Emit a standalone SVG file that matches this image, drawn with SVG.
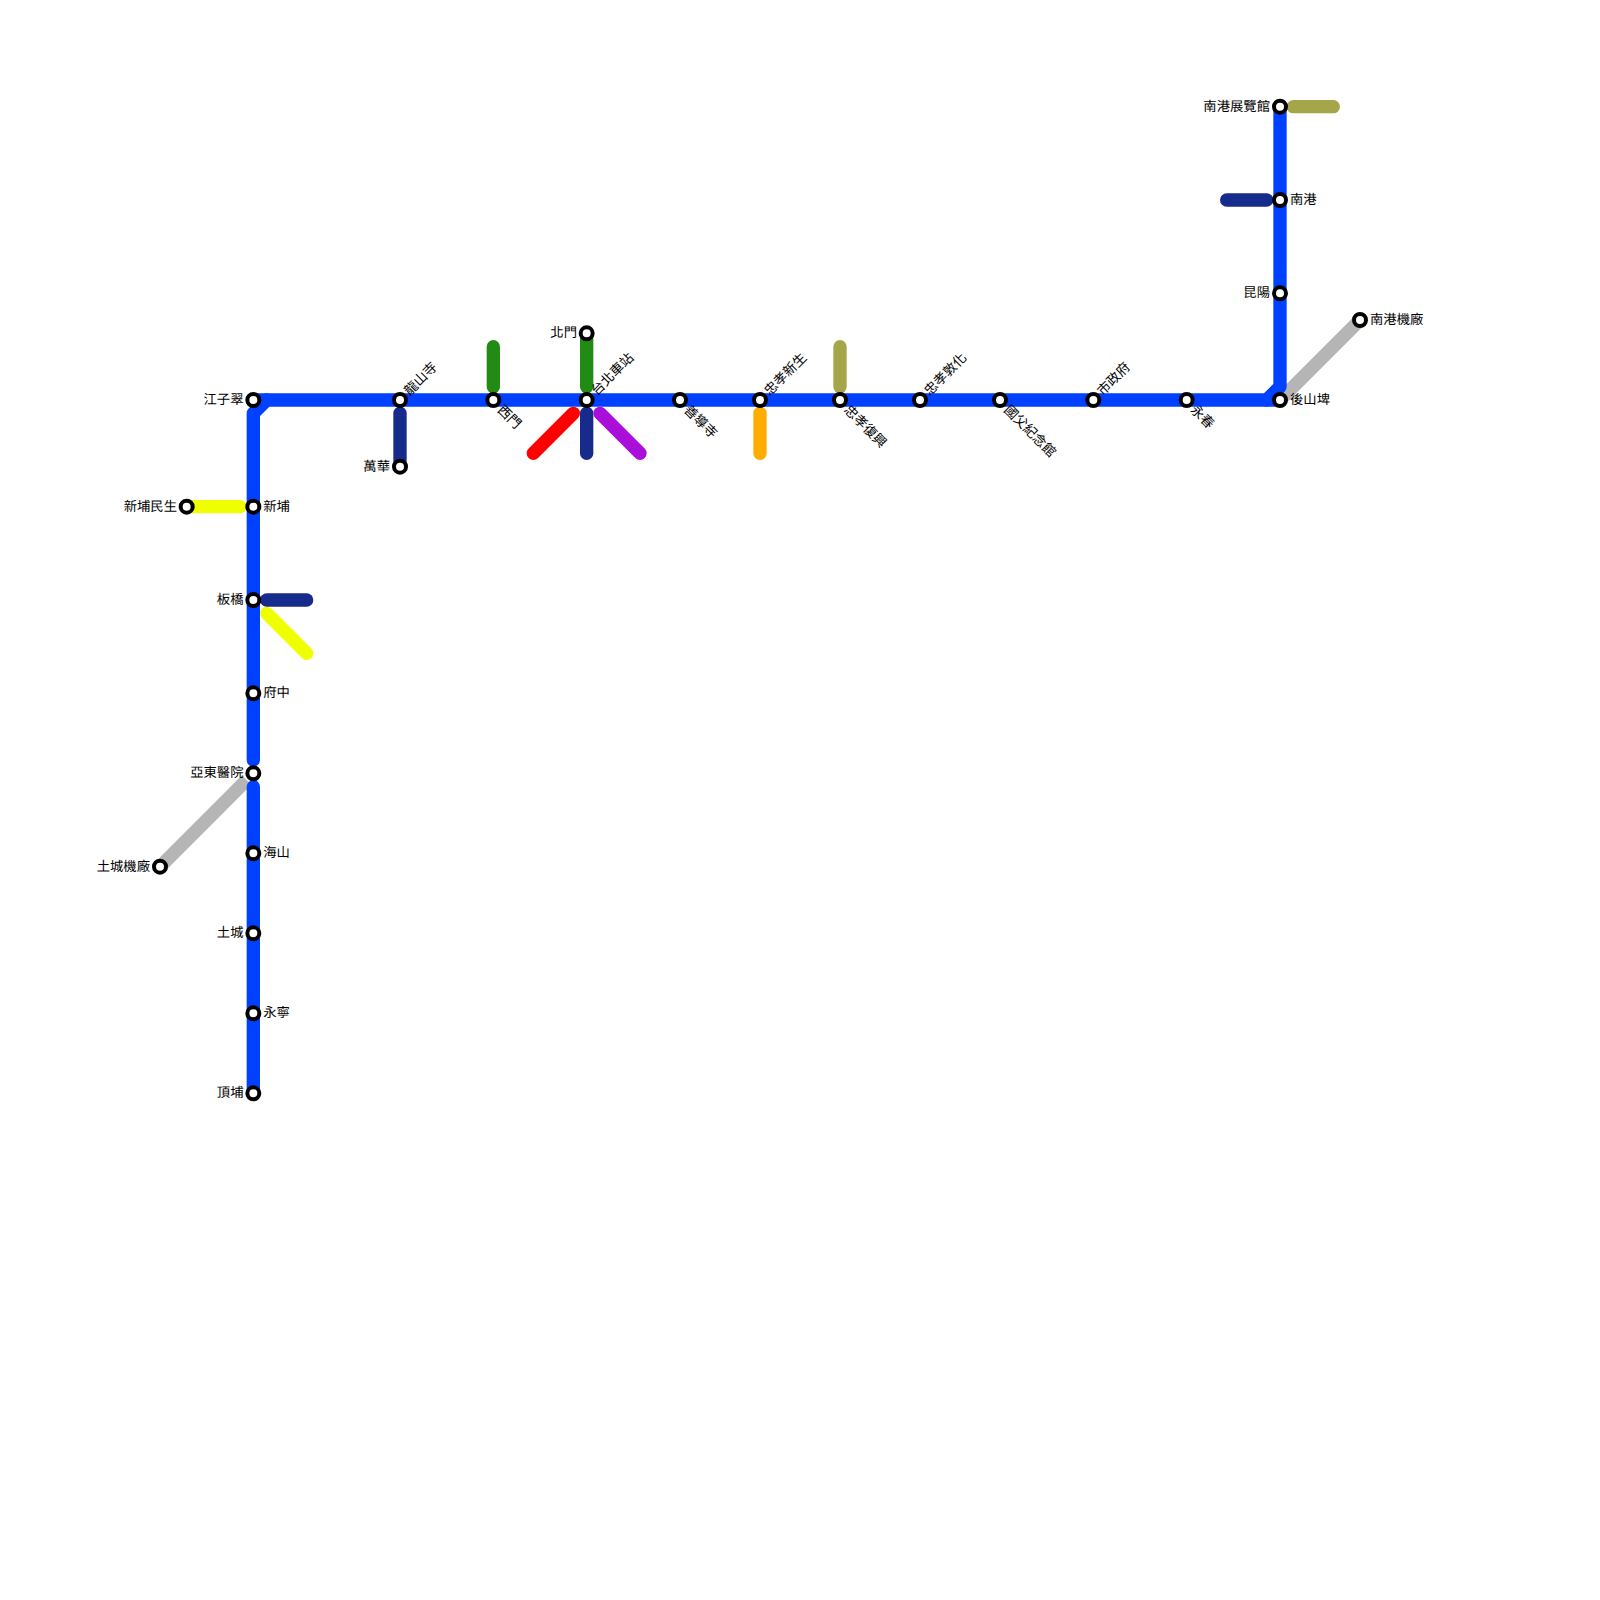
<svg xmlns="http://www.w3.org/2000/svg" width="1600" height="1600" viewBox="0 0 1600 1600">
<style>
.l{fill:none;stroke-width:13.33;stroke-linecap:round;stroke-linejoin:round}
.b{stroke:#0040ff}.n{stroke:#172b8c}.g{stroke:#228b13}.o{stroke:#a5a54a}.y{stroke:#f0ff00}.r{stroke:#ff0000}.p{stroke:#a90fd9}.a{stroke:#ffac00}.h{stroke:#b5b5b5;stroke-linecap:butt}
.s{fill:#fff;stroke:#000;stroke-width:4}
text{font-family:"Liberation Sans","Noto Sans CJK TC",sans-serif;font-size:13.33px;fill:#000;dominant-baseline:central;text-rendering:geometricPrecision}
.e{text-anchor:end}
</style>
<g id="connectors">
<path class="l h" d="M160 866.67L246.67 780"/>
<path class="l h" d="M1280 400L1360 320"/>
<path class="l y" d="M186.67 506.67H240"/>
<path class="l y" d="M266.67 613.33L306.67 653.33"/>
<path class="l n" d="M266.67 600H306.67"/>
<path class="l n" d="M400 413.33V466.67"/>
<path class="l g" d="M493.33 346.67V386.67"/>
<path class="l g" d="M586.67 333.33V386.67"/>
<path class="l r" d="M573.33 413.33L533.33 453.33"/>
<path class="l n" d="M586.67 413.33V453.33"/>
<path class="l p" d="M600 413.33L640 453.33"/>
<path class="l a" d="M760 413.33V453.33"/>
<path class="l o" d="M840 346.67V386.67"/>
<path class="l o" d="M1293.33 106.67H1333.33"/>
<path class="l n" d="M1226.67 200H1266.67"/>
<path class="l b" d="M253.33 1093.33V786.67"/>
<path class="l b" d="M253.33 760V413.33L266.67 400H1266.67L1280 386.67V106.67"/>
<path class="l b" d="M253.33 400H266.67"/>
<path class="l b" d="M1266.67 400H1280"/>
</g>
<g id="st-jiangzicui"><circle class="s" cx="253.33" cy="400" r="6"/><text class="e" x="243.5" y="399.3">江子翠</text></g>
<g id="st-xinpu"><circle class="s" cx="253.33" cy="506.67" r="6"/><text x="263.3" y="506">新埔</text></g>
<g id="st-xinpu-minsheng"><circle class="s" cx="186.67" cy="506.67" r="6"/><text class="e" x="177" y="506">新埔民生</text></g>
<g id="st-banqiao"><circle class="s" cx="253.33" cy="600" r="6"/><text class="e" x="243.5" y="599.3">板橋</text></g>
<g id="st-fuzhong"><circle class="s" cx="253.33" cy="693.33" r="6"/><text x="263.3" y="692.6">府中</text></g>
<g id="st-yadong"><circle class="s" cx="253.33" cy="773.33" r="6"/><text class="e" x="243.5" y="772.6">亞東醫院</text></g>
<g id="st-haishan"><circle class="s" cx="253.33" cy="853.33" r="6"/><text x="263.3" y="852.6">海山</text></g>
<g id="st-tucheng"><circle class="s" cx="253.33" cy="933.33" r="6"/><text class="e" x="243.5" y="932.6">土城</text></g>
<g id="st-yongning"><circle class="s" cx="253.33" cy="1013.33" r="6"/><text x="263.3" y="1012.6">永寧</text></g>
<g id="st-dingpu"><circle class="s" cx="253.33" cy="1093.33" r="6"/><text class="e" x="243.5" y="1092.6">頂埔</text></g>
<g id="st-tucheng-depot"><circle class="s" cx="160" cy="866.67" r="6"/><text class="e" x="150" y="866">土城機廠</text></g>
<g id="st-longshan"><circle class="s" cx="400" cy="400" r="6"/><text transform="translate(406.5 393) rotate(-45)">龍山寺</text></g>
<g id="st-wanhua"><circle class="s" cx="400" cy="466.67" r="6"/><text class="e" x="390" y="466">萬華</text></g>
<g id="st-ximen"><circle class="s" cx="493.33" cy="400" r="6"/><text transform="translate(500 407.5) rotate(45)">西門</text></g>
<g id="st-taipei"><circle class="s" cx="586.67" cy="400" r="6"/><text transform="translate(593.5 393) rotate(-45)">台北車站</text></g>
<g id="st-beimen"><circle class="s" cx="586.67" cy="333.33" r="6"/><text class="e" x="577" y="332.6">北門</text></g>
<g id="st-shandao"><circle class="s" cx="680" cy="400" r="6"/><text transform="translate(686.5 407.5) rotate(45)">善導寺</text></g>
<g id="st-zx-xinsheng"><circle class="s" cx="760" cy="400" r="6"/><text transform="translate(766.5 393) rotate(-45)">忠孝新生</text></g>
<g id="st-zx-fuxing"><circle class="s" cx="840" cy="400" r="6"/><text transform="translate(846.5 407.5) rotate(45)">忠孝復興</text></g>
<g id="st-zx-dunhua"><circle class="s" cx="920" cy="400" r="6"/><text transform="translate(926.5 393) rotate(-45)">忠孝敦化</text></g>
<g id="st-sysmh"><circle class="s" cx="1000" cy="400" r="6"/><text transform="translate(1006.5 407.5) rotate(45)">國父紀念館</text></g>
<g id="st-cityhall"><circle class="s" cx="1093.33" cy="400" r="6"/><text transform="translate(1099.5 393) rotate(-45)">市政府</text></g>
<g id="st-yongchun"><circle class="s" cx="1186.67" cy="400" r="6"/><text transform="translate(1193 407.5) rotate(45)">永春</text></g>
<g id="st-houshanpi"><circle class="s" cx="1280" cy="400" r="6"/><text x="1290" y="399.3">後山埤</text></g>
<g id="st-kunyang"><circle class="s" cx="1280" cy="293.33" r="6"/><text class="e" x="1270" y="292.6">昆陽</text></g>
<g id="st-nangang"><circle class="s" cx="1280" cy="200" r="6"/><text x="1290" y="199.3">南港</text></g>
<g id="st-nangang-expo"><circle class="s" cx="1280" cy="106.67" r="6"/><text class="e" x="1270" y="106">南港展覽館</text></g>
<g id="st-nangang-depot"><circle class="s" cx="1360" cy="320" r="6"/><text x="1370" y="319.3">南港機廠</text></g>
</svg>
